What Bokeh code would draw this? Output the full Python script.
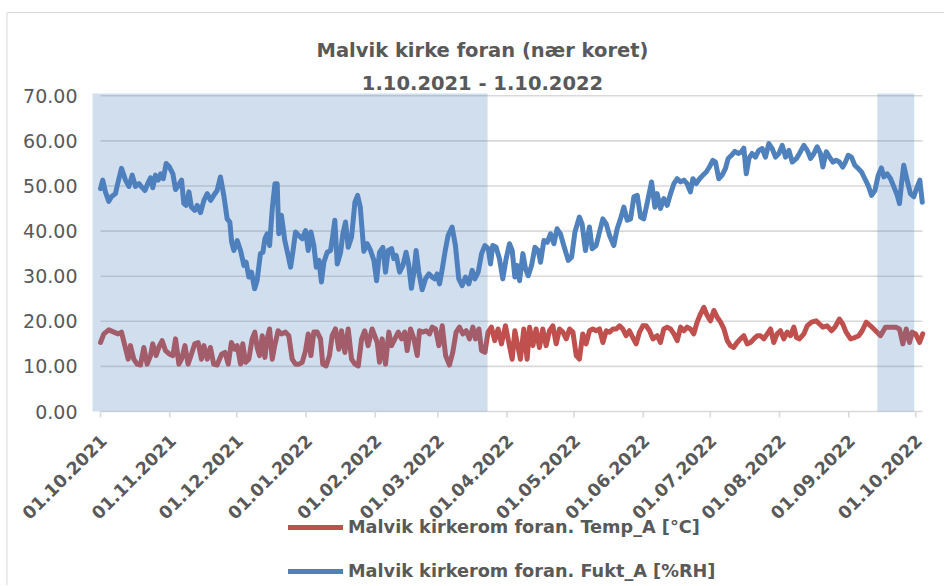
import math
import pandas as pd
from bokeh.plotting import figure
from bokeh.models import Range1d, Legend, LegendItem, Label, ColumnDataSource
from bokeh.core.properties import value
from bokeh.embed import file_html
from bokeh.resources import INLINE

# ---------------- data ----------------
START = "2021-10-01"
title_line1 = "Malvik kirke foran (nær koret)"
title_line2 = "1.10.2021 - 1.10.2022"
temp_label = "Malvik kirkerom foran. Temp_A [°C]"
hum_label = "Malvik kirkerom foran. Fukt_A [%RH]"

# days since 01.10.2021 and relative humidity [%RH]
hum_day = [0.0, 1.0, 2.2, 3.7, 4.9, 6.7, 7.5, 9.4, 11.2, 12.7, 14.2, 15.7, 17.2, 18.4, 19.9,
           21.3, 22.4, 23.4, 24.6, 25.8, 26.9, 28.1, 29.4, 30.9, 32.4, 33.6, 34.8, 36.3, 37.3,
           38.4, 39.6, 40.7, 42.2, 43.3, 44.8, 46.3, 47.8, 49.3, 50.7, 52.2, 53.7, 55.2, 56.7,
           57.9, 58.7, 59.7,
           61.2, 62.7, 64.2, 65.2, 66.4, 67.6, 69.0, 70.1, 71.6, 72.7, 73.6, 74.6, 75.7, 76.9,
           78.1, 79.1, 79.8, 81.0, 82.5, 84.0, 85.1, 86.1, 87.3, 88.8, 90.3, 91.8, 93.0, 94.2,
           95.5, 96.6, 97.8, 98.9, 100.0, 101.5, 103.0, 104.0, 104.9, 106.0, 107.5, 108.5,
           109.7, 110.9, 112.4, 113.9, 115.1, 116.3, 117.9, 119.4, 120.9, 122.4,
           123.6, 124.9, 126.4, 127.6, 128.8, 130.3, 131.3, 132.4, 133.9, 135.4, 136.8, 138.0,
           139.2, 140.3, 141.3, 142.5, 144.0, 145.5, 147.0, 148.5, 149.7, 150.7, 151.8, 153.0,
           154.2, 155.6, 157.4, 158.9, 160.4, 161.9, 163.4, 164.9, 166.4, 167.6, 169.1, 170.6,
           172.1, 173.6, 174.6, 175.6, 177.1, 178.6, 180.1, 181.6, 183.1, 184.3, 185.5,
           186.5, 187.6, 189.1, 190.3, 191.5, 193.0, 194.5, 196.0, 197.0, 198.5, 200.0, 201.5,
           203.0, 204.4, 205.9, 207.4, 209.4, 210.9, 212.4, 214.4, 215.6, 217.1, 218.9, 220.1,
           221.9, 223.4, 224.9, 226.4, 227.9, 229.8, 231.3, 232.8, 234.3, 235.8, 237.3, 238.8,
           240.3, 241.8, 243.2, 244.7, 246.7, 248.2,
           249.2, 250.7, 252.2, 253.7, 255.2, 256.7, 258.2, 259.7, 261.2, 262.6, 264.1, 265.2,
           266.7, 268.2, 269.7, 271.2, 272.6, 274.1, 275.3, 276.8, 278.3, 279.8, 281.0, 282.5,
           284.0, 285.5, 287.0, 288.0, 289.1, 290.3, 291.7, 293.2, 294.7, 296.2, 297.7, 299.2,
           300.7, 302.2, 303.7, 305.2, 306.7, 308.2, 309.7,
           311.6, 312.9, 314.9, 316.4, 317.9, 319.4, 320.8, 322.3, 323.4, 324.9, 326.4, 327.9,
           329.3, 330.8, 332.3, 333.5, 334.7, 336.2, 337.7, 339.2, 340.7, 342.2, 343.7, 345.2,
           346.7, 348.2, 349.6, 350.7, 352.2, 353.7, 355.2, 356.7, 357.7, 358.6, 359.6, 361.1,
           362.6, 364.1, 365.6, 366.8, 367.9]
hum_val = [49.4, 51.3, 48.7, 46.6, 47.6, 48.3, 50.1, 53.9, 51.3, 49.9, 52.4, 49.9, 50.5, 49.8, 49.0,
           50.7, 51.8, 49.6, 52.4, 51.3, 52.7, 51.6, 55.0, 54.2, 52.7, 49.2, 50.1, 51.3, 46.1,
           45.7, 48.7, 45.3, 44.6, 45.7, 44.1, 46.8, 48.3, 46.8, 47.9, 49.0, 52.0, 47.9, 42.7,
           42.0, 37.6, 35.7,
           37.9, 35.7, 32.4, 33.1, 29.8, 30.9, 27.2, 29.0, 35.0, 35.3, 38.3, 39.4, 36.8, 45.0,
           50.5, 50.5, 39.4, 43.5, 37.9, 34.6, 32.0, 35.3, 39.8, 39.0, 38.3, 40.1, 35.7, 39.8,
           36.8, 32.0, 33.5, 28.7, 33.1, 35.3, 35.7, 39.0, 42.4, 32.7, 35.3, 39.4,
           42.0, 36.4, 38.7, 46.4, 47.9, 45.3, 35.5, 37.2, 35.7, 33.5,
           29.0, 35.3, 36.4, 30.9, 35.7, 36.1, 33.9, 34.6, 30.9, 32.4, 35.3, 32.4,
           27.3, 30.9, 35.7, 30.9, 27.0, 29.4, 30.5, 29.8, 29.4, 30.5, 28.3, 31.6,
           35.3, 39.0, 40.9, 36.8, 29.4, 27.9, 29.8, 28.3, 31.3, 29.4, 30.9, 35.0,
           36.8, 36.1, 32.7, 36.8, 36.4, 33.9, 29.4, 33.9, 37.2, 35.7, 29.8,
           32.4, 29.0, 35.0, 31.6, 30.1, 32.4, 36.4, 35.7, 33.1, 37.9, 37.5, 39.4,
           37.2, 40.5, 39.4, 36.8, 33.5, 34.2, 39.8, 43.1, 41.6, 35.7, 40.9, 36.1,
           36.8, 39.8, 42.7, 41.6, 39.0, 36.8, 40.5, 42.7, 45.3, 42.4, 42.7, 47.6,
           47.9, 43.1, 42.7, 46.1, 50.9, 45.3,
           48.3, 45.0, 47.2, 45.7, 48.3, 50.5, 51.6, 50.9, 51.3, 50.5, 48.7, 51.6,
           50.5, 51.6, 52.4, 53.1, 54.2, 55.7, 55.3, 51.6, 52.4, 53.9, 56.1, 56.8,
           57.7, 57.2, 57.6, 58.4, 52.7, 56.1, 57.2, 56.4, 57.9, 58.3, 56.4, 59.4,
           58.3, 56.4, 57.2, 59.0, 56.4, 57.9, 55.3,
           56.1, 57.2, 59.0, 57.9, 56.1, 57.2, 58.7, 57.2, 54.2, 57.6, 56.4, 55.3,
           55.7, 55.3, 54.2, 55.3, 56.8, 56.4, 54.6, 53.9, 53.1, 51.6, 50.1, 47.9,
           49.0, 52.4, 54.0, 52.0, 52.7, 51.6, 49.8, 47.9, 46.1, 50.5, 54.6, 51.3,
           48.3, 47.6, 49.8, 51.3, 46.4]

# days since 01.10.2021 and temperature [°C]
temp_day = [0.0, 1.5, 3.7, 6.0, 7.9, 9.4, 10.9, 12.4, 13.4, 14.9, 16.4, 17.9, 19.4, 20.9, 22.4,
            23.4, 24.9, 26.4, 27.6, 29.1, 30.9, 32.4, 33.6, 35.1, 36.3, 37.8, 39.2, 40.7, 42.2,
            43.7, 45.2, 46.3, 47.8, 49.2, 50.7, 52.2, 54.2, 55.7, 57.2, 58.6, 60.1,
            61.2, 62.7, 63.7, 64.9, 66.4, 67.9, 69.1, 70.1, 71.2, 72.4, 73.6, 74.6, 75.7, 76.9,
            78.0, 79.5, 81.0, 82.8, 84.3, 85.8, 87.3, 88.8, 90.3, 91.8, 93.0, 94.2, 95.5, 97.0,
            98.5, 99.5, 101.0, 102.5, 103.7, 105.2, 106.7, 107.9, 109.4, 110.9, 112.4, 113.9,
            115.4, 116.9, 118.3, 119.8, 121.6,
            123.9, 124.9, 126.1, 127.6, 129.1, 130.3, 131.8, 133.3, 134.8, 136.2, 137.3, 138.8,
            140.3, 141.8, 142.8, 144.3, 145.8, 147.3, 148.5, 150.0, 151.5, 153.0, 154.5, 156.2,
            157.7, 159.2, 160.7, 162.2, 163.7, 165.2, 166.7, 167.9, 169.4, 170.6, 172.1, 173.5,
            175.0, 176.5, 178.0, 179.5, 181.3, 182.8, 184.3, 185.5,
            186.5, 188.0, 189.5, 191.0, 192.1, 193.6, 195.0, 196.5, 198.0, 199.5, 201.0, 202.5,
            204.0, 205.5, 207.0, 208.5, 210.0, 211.5, 213.0, 214.4, 215.9, 217.4, 218.9, 220.4,
            221.9, 223.4, 224.9, 226.4, 227.9, 229.4, 230.9, 232.4, 233.8, 235.3, 236.8, 238.3,
            239.8, 241.3, 242.8, 244.3, 245.8, 247.3,
            249.2, 250.7, 252.2, 253.7, 255.2, 256.7, 258.2, 259.7, 261.2, 262.6, 264.1, 265.6,
            267.1, 268.6, 270.1, 271.6, 273.1, 274.6, 276.1, 277.6, 279.1, 280.6, 282.0, 283.5,
            285.0, 286.5, 288.0, 289.5, 291.0, 292.5, 294.0, 295.5, 297.0, 298.5, 300.0, 301.4,
            302.9, 304.4, 305.9, 307.4, 308.9, 310.4,
            311.6, 312.9, 314.9, 316.4, 318.3, 320.4, 321.9, 323.4, 325.3, 327.3, 328.8, 330.8,
            332.3, 333.8, 335.8, 337.7, 339.5, 341.0, 342.8, 344.7, 347.0, 349.2, 351.4, 353.7,
            355.9, 357.7, 359.2, 360.7, 362.2, 363.4, 364.9, 366.7, 368.1]
temp_val = [15.3, 17.2, 18.1, 17.6, 17.2, 17.6, 14.6, 11.6, 14.6, 11.6, 10.5, 10.3, 14.2, 10.5, 12.4,
            15.0, 12.4, 14.6, 15.7, 13.5, 12.7, 12.4, 16.1, 10.5, 11.6, 14.6, 10.5, 12.7, 15.0,
            15.3, 11.6, 14.6, 11.6, 14.2, 10.5, 10.3, 12.7, 13.1, 10.5, 15.3, 13.8,
            14.6, 10.5, 15.0, 10.9, 11.6, 16.1, 17.6, 14.2, 12.4, 16.8, 12.0, 16.1, 18.3, 11.6,
            14.6, 17.9, 17.2, 17.6, 16.8, 11.6, 10.5, 10.5, 10.9, 13.5, 17.2, 12.4, 17.6, 17.6,
            16.1, 10.5, 10.1, 12.4, 16.8, 18.3, 13.8, 17.9, 13.1, 18.3, 11.6, 10.5,
            10.1, 16.1, 17.9, 14.6, 18.3,
            15.3, 10.9, 16.1, 10.5, 17.6, 14.6, 16.1, 17.6, 16.1, 17.6, 13.5, 18.3,
            16.1, 12.4, 17.9, 17.6, 17.9, 17.2, 18.7, 18.3, 14.6, 19.0, 12.4, 10.3,
            13.1, 17.6, 18.7, 17.2, 17.9, 16.1, 18.7, 16.1, 18.3, 13.5, 13.1, 17.6,
            18.7, 15.7, 18.3, 15.0, 19.0, 15.3, 11.6, 17.9,
            15.3, 11.6, 18.3, 11.6, 18.7, 14.6, 18.3, 14.2, 18.3, 14.6, 17.9, 19.0,
            15.0, 18.3, 17.6, 16.1, 18.3, 17.6, 12.4, 11.6, 17.2, 15.0, 17.9, 18.3,
            17.9, 18.3, 15.3, 17.9, 17.6, 18.3, 18.3, 19.0, 18.3, 16.8, 17.9, 16.4,
            15.0, 17.6, 19.0, 19.0, 17.9, 16.1,
            16.8, 15.3, 18.3, 18.7, 18.3, 17.2, 15.7, 18.7, 17.9, 18.7, 18.3, 17.2,
            19.8, 21.6, 23.1, 21.3, 20.1, 22.4, 20.9, 19.8, 18.3, 15.7, 14.6, 14.2,
            15.3, 16.1, 16.8, 15.0, 15.3, 16.1, 16.8, 16.8, 16.1, 17.2, 18.3, 15.3,
            17.2, 17.9, 16.1, 17.6, 16.8, 18.7,
            16.4, 16.1, 17.2, 19.0, 19.8, 20.1, 19.4, 18.7, 19.0, 17.9, 18.7, 20.5,
            19.4, 17.6, 16.1, 16.4, 16.8, 17.9, 19.8, 19.0, 17.9, 16.8, 18.7, 18.7,
            18.7, 18.3, 15.0, 18.3, 15.3, 17.6, 17.2, 15.3, 17.2]

# axis ticks
tick_dates = ["2021-10-01", "2021-11-01", "2021-12-01", "2022-01-01", "2022-02-01",
              "2022-03-01", "2022-04-01", "2022-05-01", "2022-06-01", "2022-07-01",
              "2022-08-01", "2022-09-01", "2022-10-01"]
tick_labels = ["01.10.2021", "01.11.2021", "01.12.2021", "01.01.2022", "01.02.2022",
               "01.03.2022", "01.04.2022", "01.05.2022", "01.06.2022", "01.07.2022",
               "01.08.2022", "01.09.2022", "01.10.2022"]
y_ticks = [0, 10, 20, 30, 40, 50, 60, 70]
y_tick_labels = ["0.00", "10.00", "20.00", "30.00", "40.00", "50.00", "60.00", "70.00"]

# shaded periods
shade_start = ["2021-09-27 10:00", "2022-09-13 19:00"]
shade_end = ["2022-03-23 07:00", "2022-09-30 07:00"]

# ---------------- layout (page pixels -> data) ----------------
TEXT = "#595959"
GRID = "#D9D9D9"
RED = "#C0504D"
BLUE = "#4F81BD"
FONT = "DejaVu Sans"

W, H = 944, 585                     # canvas fills the window (page origin 0,0)
X0_PAGE, PX_PER_DAY = 100, 2.2337   # 01.10.2021 at page x 100
Y0_PAGE, PX_PER_UNIT = 411, 4.5106  # value 0 at page y 411

base = pd.Timestamp(START)


def day_at(px):
    return base + pd.Timedelta(days=(px - X0_PAGE) / PX_PER_DAY)


def val_at(py):
    return (Y0_PAGE - py) / PX_PER_UNIT


hum_src = ColumnDataSource(dict(x=base + pd.to_timedelta(hum_day, unit="D"), y=hum_val))
temp_src = ColumnDataSource(dict(x=base + pd.to_timedelta(temp_day, unit="D"), y=temp_val))
shade_src = ColumnDataSource(dict(left=pd.to_datetime(shade_start), right=pd.to_datetime(shade_end)))
tick_src = ColumnDataSource(dict(x=pd.to_datetime(tick_dates), label=tick_labels))
ytick_src = ColumnDataSource(dict(y=y_ticks, label=y_tick_labels))

p = figure(width=W, height=H, x_axis_type="datetime",
           x_range=Range1d(day_at(0), day_at(W)), y_range=Range1d(val_at(H), val_at(0)),
           output_backend="svg", toolbar_location=None, title=None,
           min_border_left=0, min_border_right=0, min_border_top=0, min_border_bottom=0)
p.outline_line_color = None
p.background_fill_color = "white"
p.border_fill_color = "white"
p.xaxis.visible = False
p.yaxis.visible = False
p.xgrid.visible = False
p.ygrid.visible = False

# outer chart border (top and left edges)
p.segment(x0=[day_at(6.5)], x1=[day_at(W)], y0=[val_at(12)], y1=[val_at(12)],
          line_color=GRID, line_width=1)
p.segment(x0=[day_at(6.5)], x1=[day_at(6.5)], y0=[val_at(12)], y1=[val_at(H)],
          line_color=GRID, line_width=1)

# value axis: gridlines (0 doubles as the date axis line) and labels
p.segment(x0=base, x1=day_at(922), y0="y", y1="y", source=ytick_src,
          line_color=GRID, line_width=1.6)
p.text(x=day_at(77), y="y", text="label", source=ytick_src,
       text_align=value("right"), text_baseline=value("middle"),
       text_font=value(FONT), text_font_size=value("19px"), text_color=TEXT)

# series
r_temp = p.line("x", "y", source=temp_src, line_width=5, line_color=RED,
                line_join="round", line_cap="round")
r_hum = p.line("x", "y", source=hum_src, line_width=5, line_color=BLUE,
               line_join="round", line_cap="round")

# translucent shading drawn over the lines
p.quad(left="left", right="right", bottom=0, top=val_at(93), source=shade_src,
       fill_color=BLUE, fill_alpha=0.26, line_color=None)

# date axis: month ticks and rotated labels
p.segment(x0="x", x1="x", y0=0, y1=-6 / PX_PER_UNIT, source=tick_src,
          line_color=GRID, line_width=1.6)
p.text(x="x", y=0, text="label", source=tick_src, angle=math.pi / 4,
       x_offset=3, y_offset=26, text_align=value("right"), text_baseline=value("middle"),
       text_font=value(FONT), text_font_style=value("bold"),
       text_font_size=value("17.5px"), text_color=TEXT)

# title (two centred lines)
for txt, py in ((title_line1, 50), (title_line2, 83)):
    p.add_layout(Label(x=day_at(482), y=val_at(py), text=txt, text_align="center",
                       text_baseline="middle", text_font=FONT, text_font_style="bold",
                       text_font_size="19.5px", text_color=TEXT))

legend = Legend(items=[LegendItem(label=temp_label, renderers=[r_temp]),
                       LegendItem(label=hum_label, renderers=[r_hum])],
                location=(288, H - 581), orientation="vertical",
                glyph_width=55, glyph_height=20, label_height=20, spacing=24,
                label_standoff=5, padding=0, margin=0,
                border_line_color=None, background_fill_alpha=0,
                label_text_font=FONT, label_text_font_style="bold",
                label_text_font_size="17.7px", label_text_color=TEXT)
p.add_layout(legend, "center")

open("out.html", "w").write(file_html(p, INLINE))
